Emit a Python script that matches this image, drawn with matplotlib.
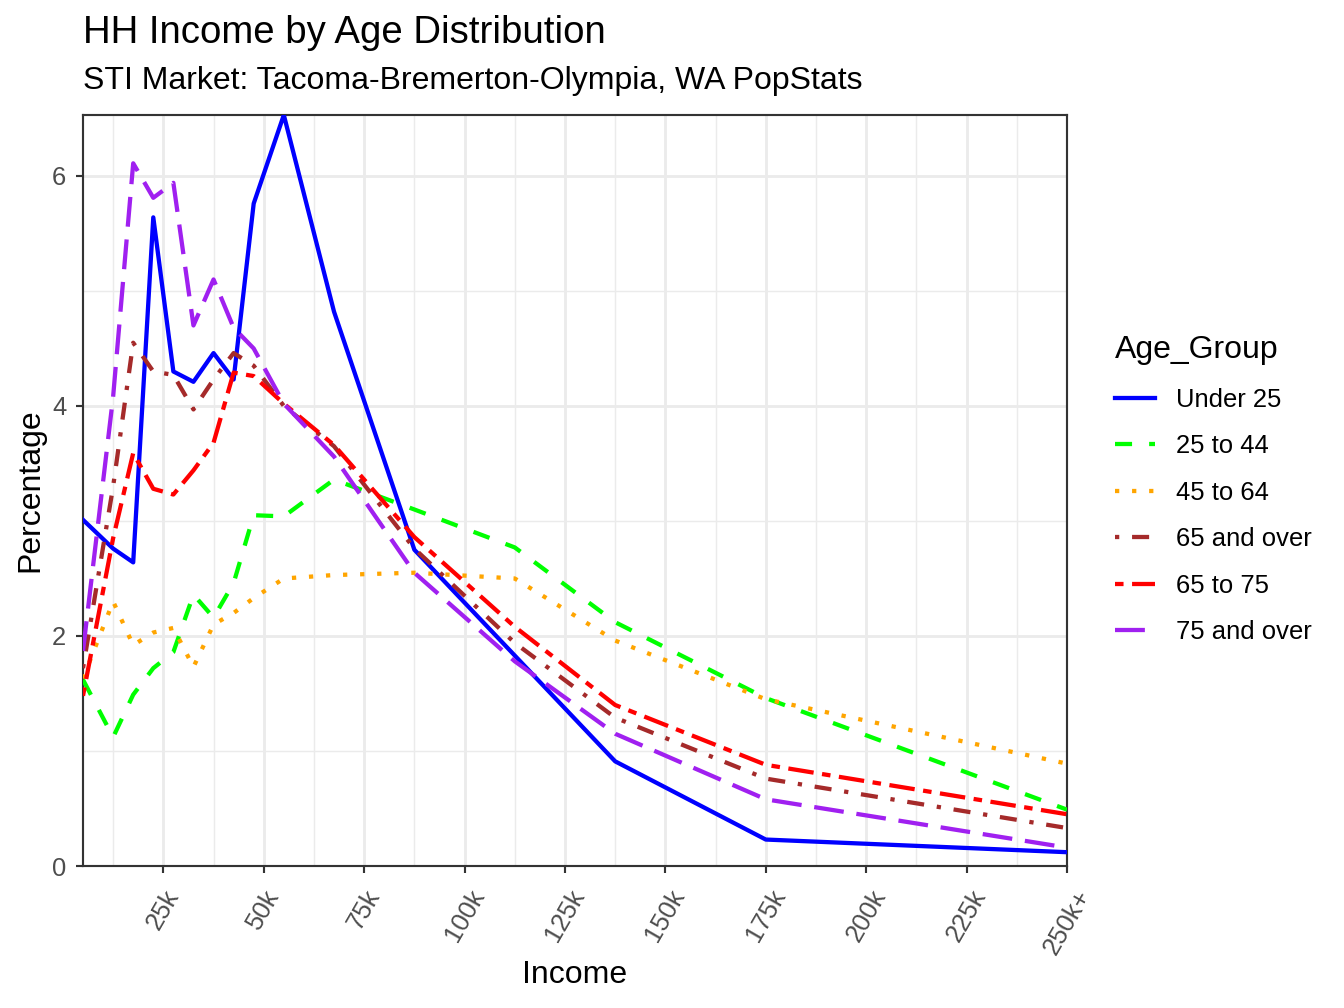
import matplotlib
matplotlib.use("Agg")
import matplotlib.pyplot as plt
from matplotlib.ticker import FixedLocator

plt.rcParams['font.family'] = ['Liberation Sans', 'DejaVu Sans']

# income bin midpoints (in $k)
income_k = [5, 12.5, 17.5, 22.5, 27.5, 32.5, 37.5, 42.5, 47.5, 55, 67.5, 87.5, 112.5, 137.5, 175, 250]

under_25 = [3.01, 2.76, 2.64, 5.64, 4.30, 4.21, 4.46, 4.23, 5.76, 6.53, 4.82, 2.75, 1.83, 0.91, 0.23, 0.12]
age_25_44 = [1.62, 1.12, 1.49, 1.72, 1.86, 2.36, 2.16, 2.46, 3.05, 3.04, 3.36, 3.10, 2.77, 2.12, 1.46, 0.49]
age_45_64 = [1.63, 2.30, 1.92, 2.03, 2.07, 1.73, 2.10, 2.20, 2.33, 2.50, 2.53, 2.55, 2.50, 1.96, 1.45, 0.89]
age_65_over = [1.72, 3.30, 4.55, 4.30, 4.27, 3.97, 4.23, 4.46, 4.35, 4.00, 3.65, 2.76, 1.94, 1.29, 0.76, 0.33]
age_65_75 = [1.48, 2.85, 3.59, 3.28, 3.23, 3.44, 3.68, 4.29, 4.26, 4.02, 3.66, 2.86, 2.08, 1.40, 0.88, 0.45]
age_75_over = [1.87, 4.08, 6.11, 5.81, 5.94, 4.70, 5.10, 4.68, 4.50, 4.02, 3.56, 2.55, 1.78, 1.15, 0.58, 0.16]

group_names = ['Under 25', '25 to 44', '45 to 64', '65 and over', '65 to 75', '75 and over']
group_values = [under_25, age_25_44, age_45_64, age_65_over, age_65_75, age_75_over]
group_colors = ['#0000FF', '#00FF00', '#FFA500', '#A52A2A', '#FF0000', '#A020F0']
# ggplot linetypes: solid, dashed, dotted, dotdash, twodash, longdash
group_styles = ['-', (0, (4, 4)), (0, (1, 3)), (0, (1, 3, 4, 3)), (0, (2, 2, 6, 2)), (0, (7, 3))]

x_ticks = [25, 50, 75, 100, 125, 150, 175, 200, 225, 250]
x_labels = ['25k', '50k', '75k', '100k', '125k', '150k', '175k', '200k', '225k', '250k+']
x_minor = [12.5, 37.5, 62.5, 87.5, 112.5, 137.5, 162.5, 187.5, 212.5, 237.5]
y_ticks = [0, 2, 4, 6]
y_minor = [1, 3, 5]

W, H = 1344, 1008
fig = plt.figure(figsize=(7, 5.25), dpi=192)
ax = fig.add_axes([83 / W, 1 - 866 / H, (1067 - 83) / W, (866 - 115) / H])

for name, vals, col, ls in zip(group_names, group_values, group_colors, group_styles):
    ax.plot(income_k, vals, color=col, linestyle=ls, lw=1.6, label=name,
            solid_joinstyle='round', dash_joinstyle='round', dash_capstyle='butt', zorder=3)

ax.set_xlim(5, 250)
ax.set_ylim(0, 6.53)

ax.set_xticks(x_ticks)
ax.set_xticklabels(x_labels, rotation=60, ha='center', va='top')
ax.xaxis.set_minor_locator(FixedLocator(x_minor))
ax.set_yticks(y_ticks)
ax.set_yticklabels([str(v) for v in y_ticks])
ax.yaxis.set_minor_locator(FixedLocator(y_minor))

ax.grid(True, which='major', color='#EBEBEB', lw=1.07, zorder=0)
ax.grid(True, which='minor', color='#EBEBEB', lw=0.53, zorder=0)
ax.set_axisbelow(True)

ax.tick_params(which='major', length=2.75, width=0.8, color='#333333', labelsize=9.6, labelcolor='#4D4D4D')
ax.tick_params(axis='x', which='major', pad=4.5)
ax.tick_params(axis='y', which='major', pad=3.5)
ax.tick_params(which='minor', length=0)
for sp in ax.spines.values():
    sp.set_color('#333333')
    sp.set_linewidth(0.8)

fig.text(83 / W, 1 - 33 / H, 'HH Income by Age Distribution', fontsize=14.4, ha='left', va='center')
fig.text(83 / W, 1 - 81 / H, 'STI Market: Tacoma-Bremerton-Olympia, WA PopStats', fontsize=12, ha='left', va='center')
fig.text(575 / W, 1 - 975 / H, 'Income', fontsize=12, ha='center', va='center')
fig.text(30 / W, 1 - 490 / H, 'Percentage', fontsize=12, ha='center', va='center', rotation=90)

leg = fig.legend(loc='upper left', bbox_to_anchor=(1115 / W, 1 - 335 / H), frameon=False,
                 fontsize=9.6, title='Age_Group', title_fontsize=12,
                 handlelength=1.56, handletextpad=0.82, labelspacing=0.88, borderpad=0, borderaxespad=0)
leg._legend_box.align = 'left'

fig.savefig('out.png', dpi=192)
